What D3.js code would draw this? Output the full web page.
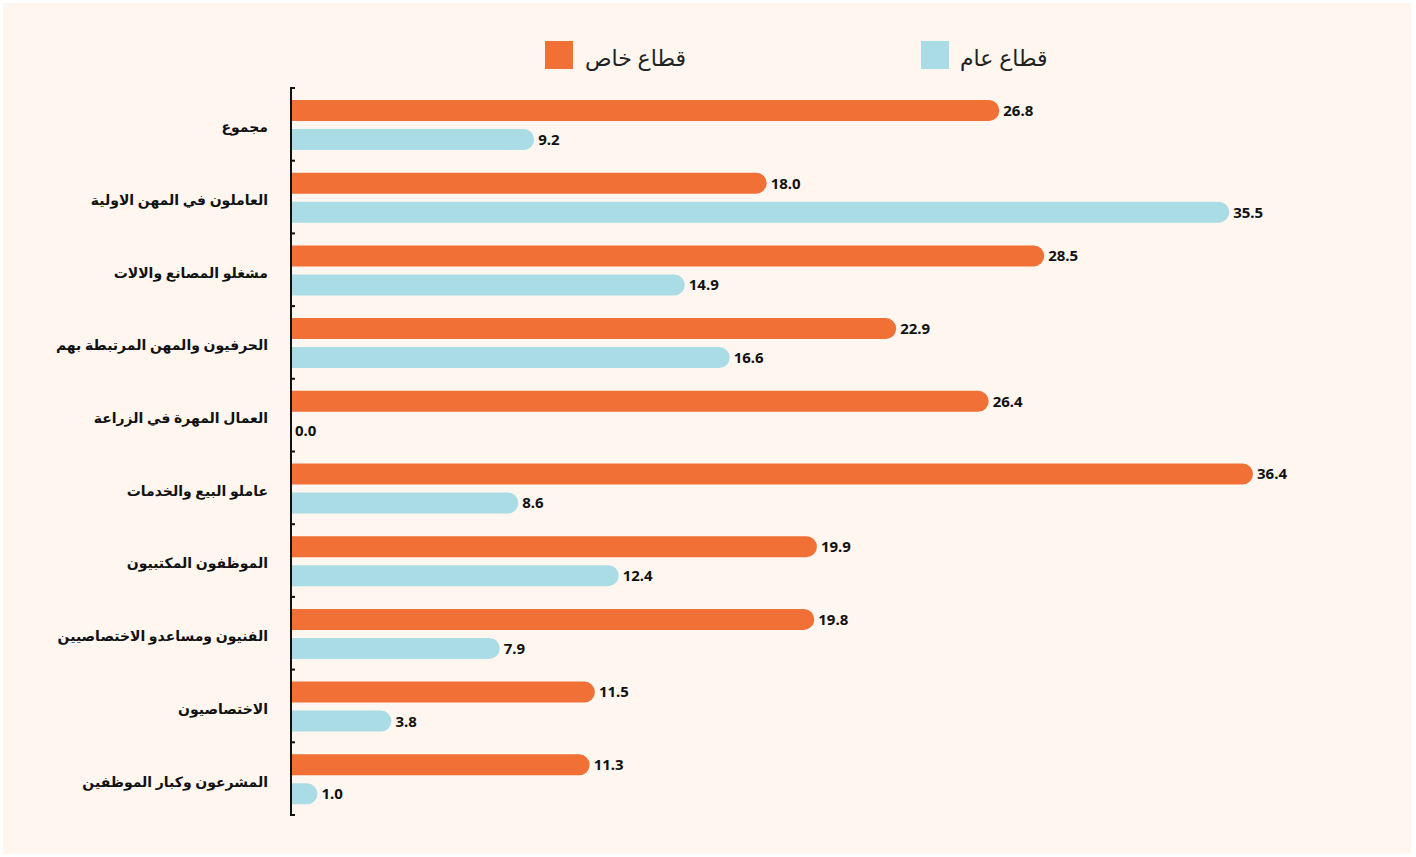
<!DOCTYPE html>
<html><head><meta charset="utf-8">
<script src="https://cdn.jsdelivr.net/npm/d3@7"></script>
<style>
html,body{margin:0;padding:0;background:#fff;}
svg{display:block;font-family:"Noto Sans","DejaVu Sans",sans-serif;}
</style></head>
<body><svg id="c" width="1416" height="857"></svg>
<script>
const categories = ["مجموع","العاملون في المهن الاولية","مشغلو المصانع والالات","الحرفيون والمهن المرتبطة بهم","العمال المهرة في الزراعة","عاملو البيع والخدمات","الموظفون المكتبيون","الفنيون ومساعدو الاختصاصيين","الاختصاصيون","المشرعون وكبار الموظفين"];
const seriesNames = ["قطاع خاص","قطاع عام"];
const privateSector = [26.8,18.0,28.5,22.9,26.4,36.4,19.9,19.8,11.5,11.3];
const publicSector = [9.2,35.5,14.9,16.6,0.0,8.6,12.4,7.9,3.8,1.0];
const colors = ["#f07036","#aadce6"];

const svg = d3.select("#c");
svg.append("rect").attr("x",3).attr("y",3).attr("width",1408).attr("height",851).attr("fill","#fef6ef");

const x = d3.scaleLinear().domain([0,36.4]).range([291,1253]);
const y0 = d3.scaleBand().domain(categories).range([88,815]);
const y1 = d3.scaleBand().domain([0,1]).range([12,62]).paddingInner(0.276);

const series = [privateSector, publicSector];

function barPath(x0,x1,yt,h){
  const w = x1-x0, r = Math.min(h/2, w);
  if (w<=0) return "";
  return `M${x0},${yt}H${x1-r}A${r},${h/2} 0 0 1 ${x1},${yt+h/2}A${r},${h/2} 0 0 1 ${x1-r},${yt+h}H${x0}Z`;
}

const g = svg.append("g");
categories.forEach((c,i)=>{
  series.forEach((s,j)=>{
    const v = s[i];
    const yt = y0(c)+y1(j), h = y1.bandwidth();
    g.append("path").attr("d", barPath(x(0), x(v), yt, h)).attr("fill", colors[j]);
    g.append("text").attr("x", x(v)+4).attr("y", yt+h/2).attr("dy","0.36em")
      .attr("font-size",15).attr("font-weight","bold").attr("fill","#111")
      .attr("font-family","'Noto Sans',sans-serif")
      .text(v.toFixed(1));
  });
  g.append("text").attr("x",268).attr("y", y0(c)+y0.bandwidth()/2+3).attr("dy","0.35em")
    .attr("text-anchor","end").attr("font-size",14).attr("font-weight","600").attr("fill","#111")
    .text(c);
});

// axis
const axis = svg.append("g");
axis.append("line").attr("x1",291).attr("x2",291).attr("y1",88).attr("y2",815).attr("stroke","#111").attr("stroke-width",2);
const ticks = categories.map(c=>y0(c)).concat([815]);
ticks.forEach(t=>{
  axis.append("line").attr("x1",290).attr("x2",295).attr("y1",t).attr("y2",t).attr("stroke","#111").attr("stroke-width",2);
});

// legend
const leg = [{x:545, tx:585},{x:921, tx:960}];
seriesNames.forEach((n,j)=>{
  svg.append("rect").attr("x",leg[j].x).attr("y",41).attr("width",28).attr("height",28).attr("fill",colors[j]);
  svg.append("text").attr("x",leg[j].tx).attr("y",58).attr("dy","0.35em").attr("font-size",22).attr("fill","#222").text(n);
});
</script></body></html>
